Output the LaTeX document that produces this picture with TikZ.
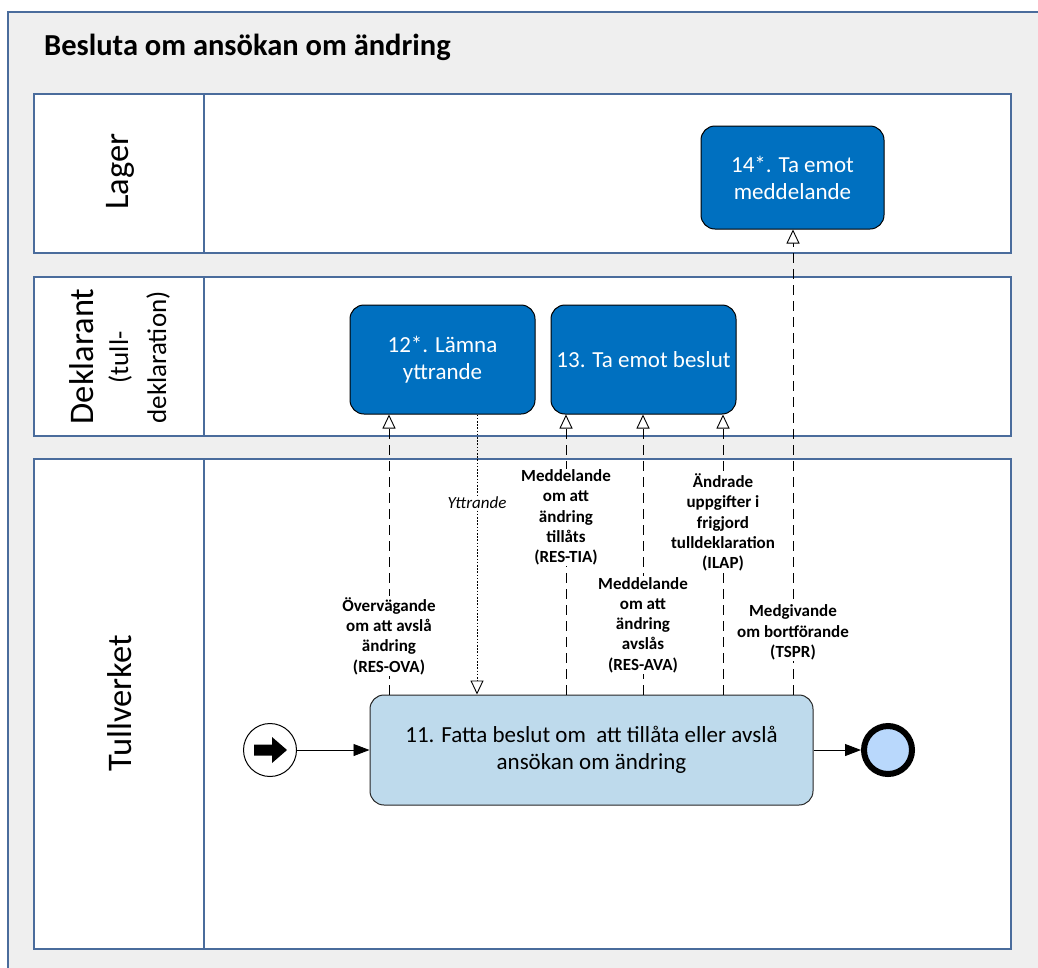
\documentclass[tikz,border=0pt]{standalone}
\usepackage{fontspec}
\setmainfont{Carlito}
\usetikzlibrary{arrows.meta,calc}
\definecolor{lanecol}{RGB}{74,108,156}
\definecolor{bgcol}{RGB}{239,239,239}
\definecolor{taskblue}{RGB}{0,112,192}
\definecolor{tasklight}{RGB}{190,218,236}
\definecolor{endfill}{RGB}{185,216,252}
\tikzset{
  lane/.style={draw=lanecol, line width=1.5pt, fill=white},
  darktask/.style={draw=black, line width=1pt, fill=taskblue, rounded corners=14pt,
    text=white, align=center, inner sep=2pt, font=\fontsize{23}{27}\selectfont},
  lighttask/.style={draw=black!85, line width=1pt, fill=tasklight, rounded corners=14pt,
    text=black, align=center, inner sep=2pt, font=\fontsize{23}{27}\selectfont},
  msgflow/.style={draw=black, line width=0.9pt, dash pattern=on 10pt off 6pt,
    -{Triangle[length=14pt,width=13pt,fill=white,line width=0.9pt]}},
  msgdot/.style={draw=black, line width=0.9pt, dash pattern=on 1.6pt off 1.6pt,
    -{Triangle[length=14pt,width=13pt,fill=white,line width=0.9pt]}},
  seqflow/.style={draw=black, line width=0.9pt, -{Triangle[length=16pt,width=12pt]}},
  msglbl/.style={fill=white, align=center, inner sep=1pt,
    font=\bfseries\fontsize{17}{20.3}\selectfont},
  lanelbl/.style={rotate=90, anchor=base, inner sep=0pt, font=\fontsize{34.5}{38}\selectfont},
  lanelblsmall/.style={rotate=90, anchor=base, inner sep=0pt, font=\fontsize{27}{30}\selectfont},
}
\begin{document}
\begin{tikzpicture}[x=1pt,y=-1pt]
\useasboundingbox (0,0) rectangle (1038,967);
% outer frame
\fill[bgcol] (8,12) rectangle (1040,970);
\draw[lanecol, line width=1.3pt] (1040,12) -- (8,12) -- (8,970);
\node[anchor=base west, inner sep=0pt, font=\bfseries\fontsize{30.5}{34}\selectfont] (title) at (44,55) {Besluta om ansökan om ändring};
% lanes
\draw[lane] (34,94) rectangle (1011,253);
\draw[lanecol, line width=1.5pt] (204,94) -- (204,253);
\draw[lane] (34,277) rectangle (1011,436);
\draw[lanecol, line width=1.5pt] (204,277) -- (204,436);
\draw[lane] (34,459) rectangle (1011,949);
\draw[lanecol, line width=1.5pt] (204,459) -- (204,949);
\node[lanelbl] (lager) at (128,171.5) {Lager};
\node[lanelbl] (dekl) at (93,356.5) {Deklarant};
\node[lanelblsmall] (dekl2) at (128,357.5) {(tull-};
\node[lanelblsmall] (dekl3) at (166,357.5) {deklaration)};
\node[lanelbl] (tull) at (131,703) {Tullverket};
% tasks
\node[darktask, minimum width=183pt, minimum height=103pt] (t14) at (792.5,177.5) {14*. Ta emot\\meddelande};
\node[darktask, minimum width=185pt, minimum height=109pt] (t12) at (442.5,359.5) {12*. Lämna\\yttrande};
\node[darktask, minimum width=185pt, minimum height=109pt] (t13) at (643.5,359.5) {13. Ta emot beslut};
\node[lighttask, minimum width=443pt, minimum height=110pt] (t11) at (591.5,750) {11. Fatta beslut om \ att tillåta eller avslå\\ansökan om ändring};
% events
\node[circle, draw=black, line width=1pt, fill=white, minimum size=53pt, inner sep=0pt] (start) at (270,750) {};
\fill[black, shift={(start.center)}] (-16,-5.5) -- (2,-5.5) -- (2,-13) -- (17,0) -- (2,13) -- (2,5.5) -- (-16,5.5) -- cycle;
\node[circle, draw=black, line width=6pt, fill=endfill, minimum size=48pt, inner sep=0pt] (end) at (888,750) {};
% sequence flows
\draw[seqflow] (start) -- (t11);
\draw[seqflow] (t11) -- (end);
% message flows
\coordinate (xOVA) at (389,0);
\coordinate (xY) at (477,0);
\coordinate (xTIA) at (566,0);
\coordinate (xAVA) at (643,0);
\coordinate (xILAP) at (723,0);
\coordinate (xTSPR) at (793,0);
\draw[msgflow] (t11.north -| xOVA) -- (t12.south -| xOVA);
\draw[msgdot] (t12.south -| xY) -- (t11.north -| xY);
\draw[msgflow] (t11.north -| xTIA) -- (t13.south -| xTIA);
\draw[msgflow] (t11.north -| xAVA) -- (t13.south -| xAVA);
\draw[msgflow] (t11.north -| xILAP) -- (t13.south -| xILAP);
\draw[msgflow] (t11.north -| xTSPR) -- (t14.south -| xTSPR);
% labels
\node[msglbl] (lOVA) at (389,636) {Övervägande\\om att avslå\\ändring\\(RES-OVA)};
\node[fill=white, inner sep=1pt, font=\itshape\fontsize{17}{20}\selectfont] (lY) at (477,503) {Yttrande};
\node[msglbl] (lTIA) at (566,517.5) {Meddelande\\om att\\ändring\\tillåts\\(RES-TIA)};
\node[msglbl] (lAVA) at (643,625) {Meddelande\\om att\\ändring\\avslås\\(RES-AVA)};
\node[msglbl] (lILAP) at (723,522.5) {Ändrade\\uppgifter i\\frigjord\\tulldeklaration\\(ILAP)};
\node[msglbl] (lTSPR) at (793,632.5) {Medgivande\\om bortförande\\(TSPR)};
\end{tikzpicture}
\end{document}
